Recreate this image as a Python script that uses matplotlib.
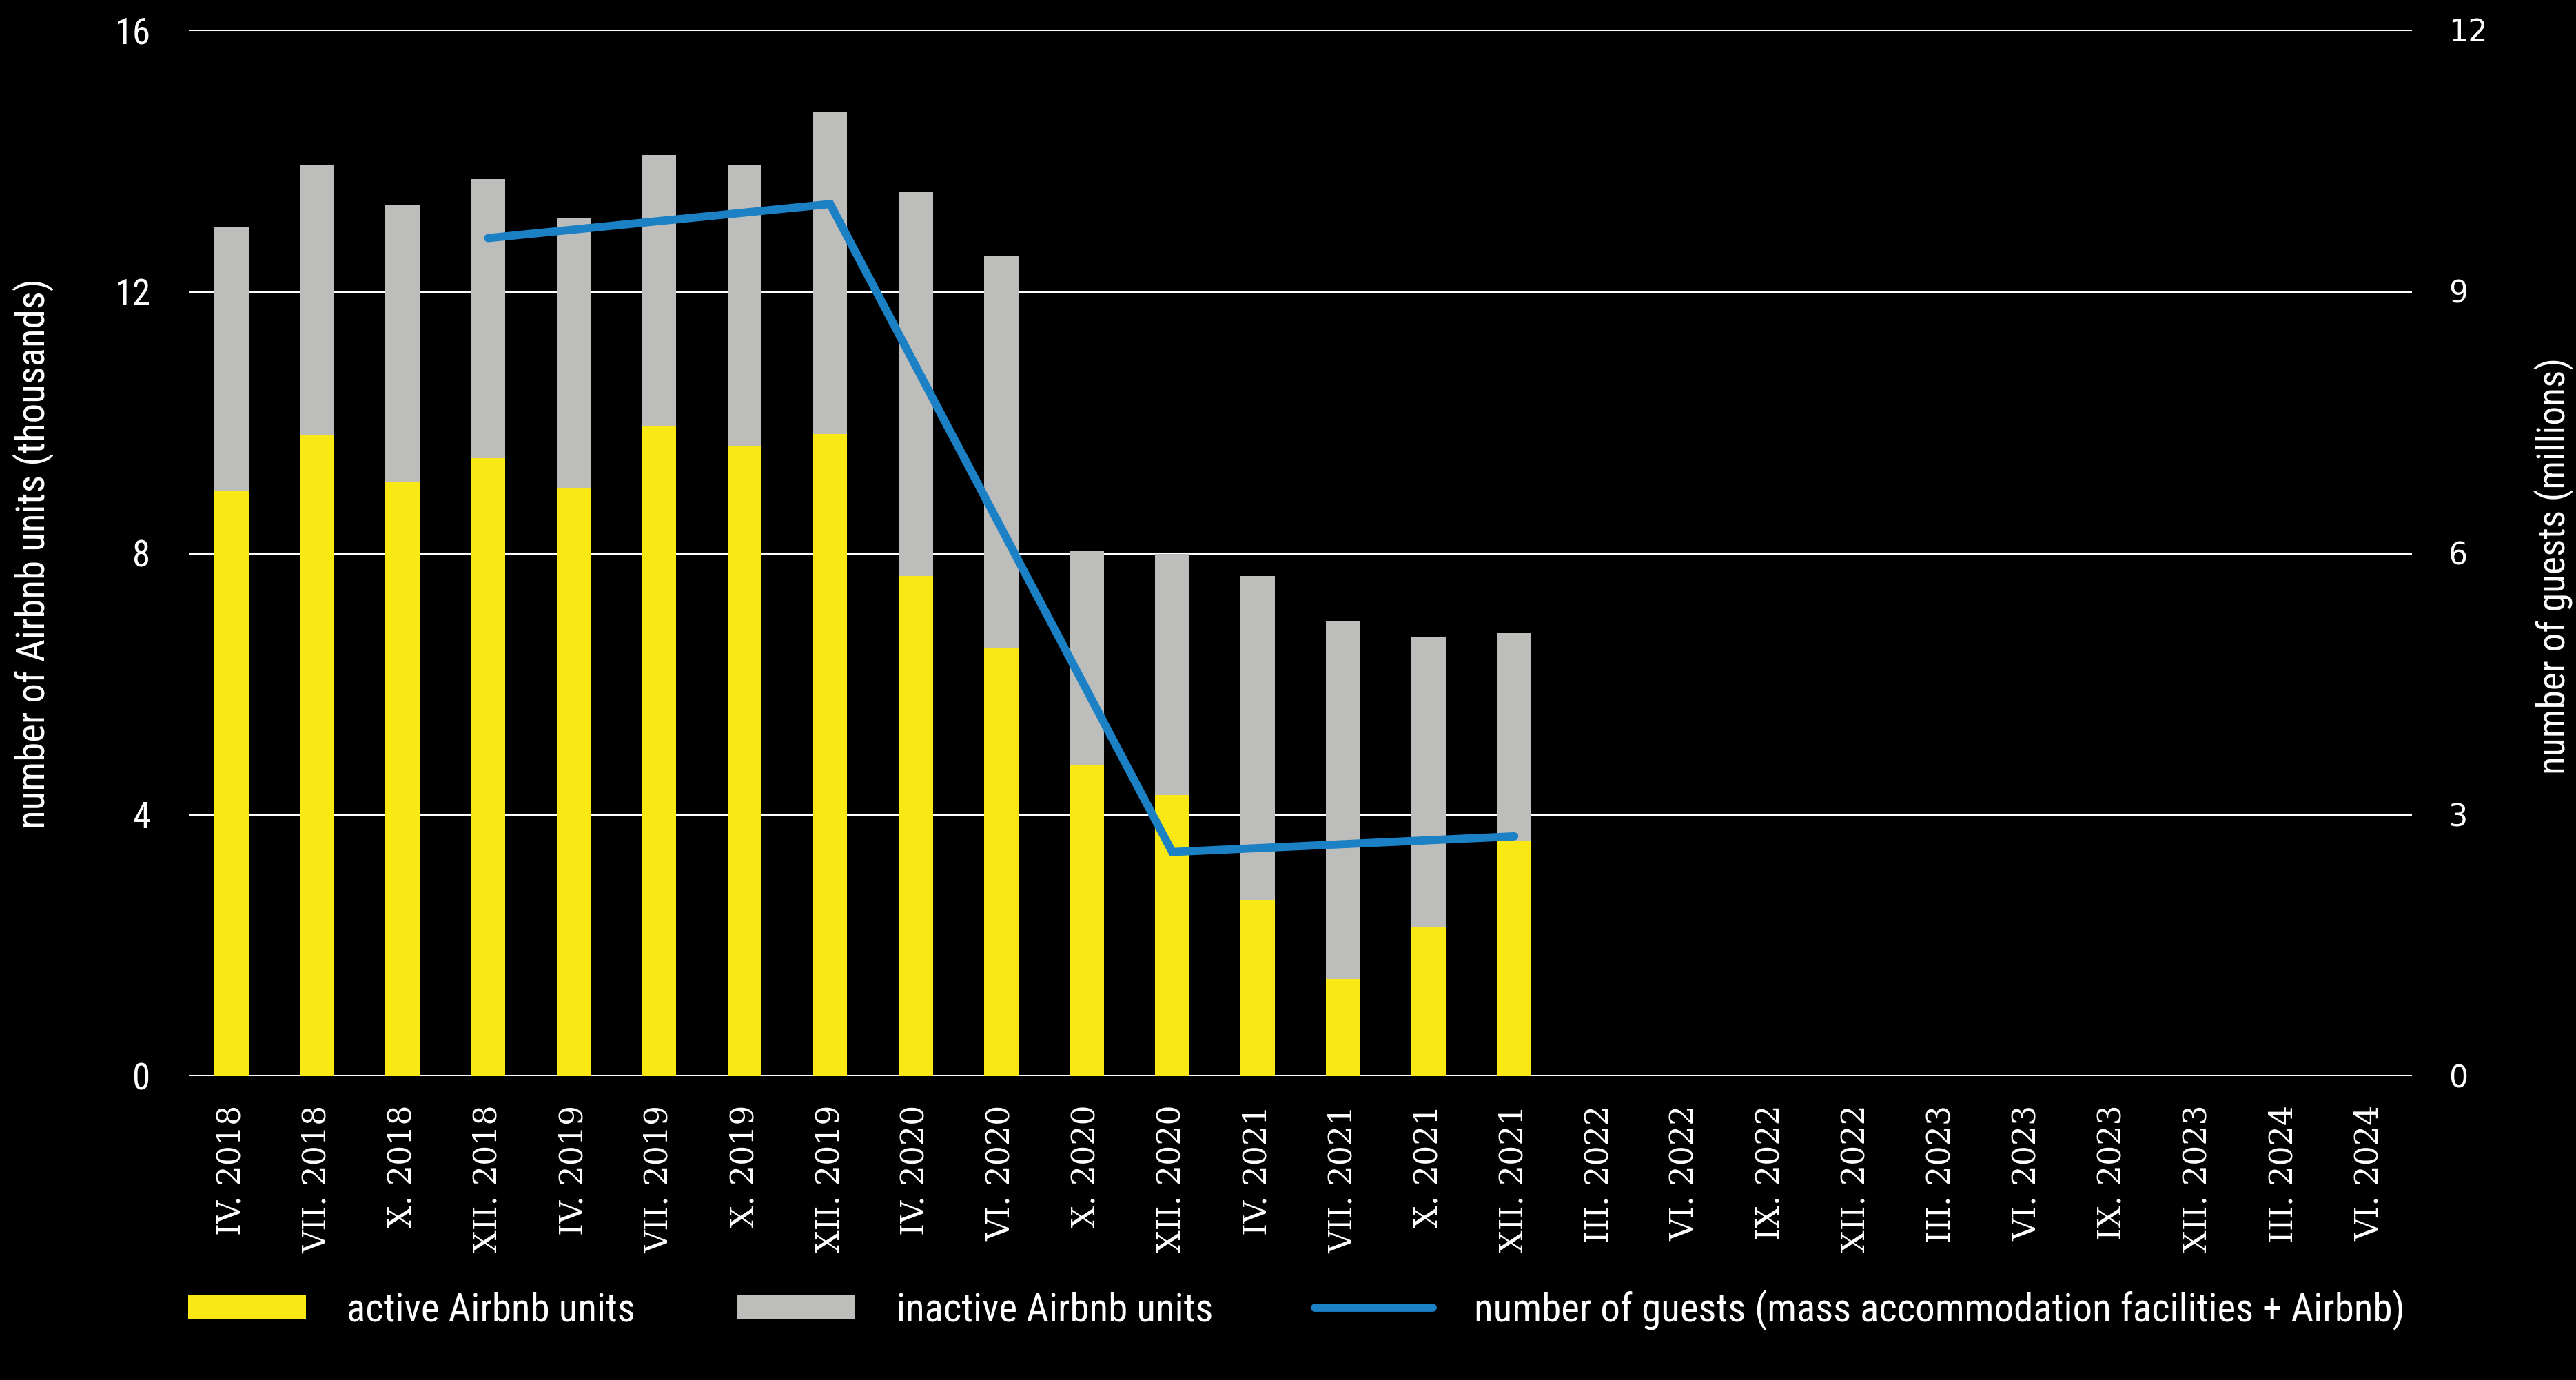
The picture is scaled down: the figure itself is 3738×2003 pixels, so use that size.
import matplotlib
matplotlib.use("Agg")
import matplotlib.pyplot as plt
import numpy as np
from matplotlib.patches import Patch
from matplotlib.lines import Line2D

categories = ["IV. 2018", "VII. 2018", "X. 2018", "XII. 2018", "IV. 2019", "VII. 2019",
              "X. 2019", "XII. 2019", "IV. 2020", "VI. 2020", "X. 2020", "XII. 2020",
              "IV. 2021", "VII. 2021", "X. 2021", "XII. 2021", "III. 2022", "VI. 2022",
              "IX. 2022", "XII. 2022", "III. 2023", "VI. 2023", "IX. 2023", "XII. 2023",
              "III. 2024", "VI. 2024"]

# thousands of units
active = [8.95, 9.81, 9.09, 9.45, 8.98, 9.93, 9.64, 9.82, 7.65, 6.54, 4.76, 4.30,
          2.69, 1.48, 2.27, 3.60]
total = [12.98, 13.93, 13.33, 13.72, 13.11, 14.08, 13.94, 14.74, 13.51, 12.55, 8.03, 7.98,
         7.65, 6.96, 6.72, 6.77]
inactive = [t - a for t, a in zip(total, active)]

# guests (millions), yearly points
guest_cats = ["XII. 2018", "XII. 2019", "XII. 2020", "XII. 2021"]
guests = [9.61, 10.0, 2.57, 2.75]

left_ticks = [0, 4, 8, 12, 16]
right_ticks = [0, 3, 6, 9, 12]

YELLOW = "#F9E814"
GREY = "#BDBDBB"
BLUE = "#1B80C4"

narrow = ["Liberation Sans Narrow", "Roboto Condensed", "DejaVu Sans"]

fig = plt.figure(figsize=(37.38, 20.03), dpi=100, facecolor="black")
ax = fig.add_axes([0.0733, 0.2202, 0.8631, 0.7583])
ax.set_facecolor("black")

x = np.arange(len(categories))
xa = x[:len(active)]
bw = 0.40
ax.bar(xa, active, width=bw, color=YELLOW, zorder=3)
ax.bar(xa, inactive, width=bw, bottom=active, color=GREY, zorder=3)

ax.set_xlim(-0.5, len(categories) - 0.5)
ax.set_ylim(0, 16)
ax.set_yticks(left_ticks)
ax.grid(axis="y", color="white", linewidth=2.2, zorder=1)
ax.set_axisbelow(True)
for s in ax.spines.values():
    s.set_visible(False)
ax.tick_params(axis="both", length=0)
ax.tick_params(axis="y", pad=40, labelcolor="white", labelsize=38)
for lab in ax.get_yticklabels():
    lab.set_family(narrow)
ax.set_xticks(x)
ax.set_xticklabels(categories, rotation=90, color="white", fontsize=33,
                   family="DejaVu Serif")
ax.tick_params(axis="x", pad=30)

fig.text(0.0128, 0.599, "number of Airbnb units (thousands)", color="white",
         fontsize=41, family=narrow, rotation=90, ha="center", va="center")

ax2 = ax.twinx()
ax2.set_ylim(0, 12)
ax2.set_yticks(right_ticks)
for s in ax2.spines.values():
    s.set_visible(False)
ax2.tick_params(axis="y", length=0, pad=38, labelcolor="white", labelsize=32)
gx = [categories.index(c) for c in guest_cats]
ax2.plot(gx, guests, color=BLUE, linewidth=8.5, solid_capstyle="round",
         solid_joinstyle="miter", zorder=5)
fig.text(0.9915, 0.590, "number of guests (millions)", color="white",
         fontsize=40, family=narrow, rotation=90, ha="center", va="center")

handles = [Patch(facecolor=YELLOW, edgecolor="none"),
           Patch(facecolor=GREY, edgecolor="none"),
           Line2D([0], [0], color=BLUE, linewidth=8.5, solid_capstyle="round")]
labels = ["active Airbnb units", "inactive Airbnb units",
          "number of guests (mass accommodation facilities + Airbnb)"]
leg = fig.legend(handles, labels, loc="center left", bbox_to_anchor=(0.073, 0.051),
                 ncol=3, frameon=False, handlelength=3.0, handleheight=0.6,
                 handletextpad=1.05, columnspacing=2.6, borderpad=0, borderaxespad=0,
                 prop={"family": narrow, "size": 41})
for t in leg.get_texts():
    t.set_color("white")

fig.savefig("out.png", dpi=100, facecolor="black")
